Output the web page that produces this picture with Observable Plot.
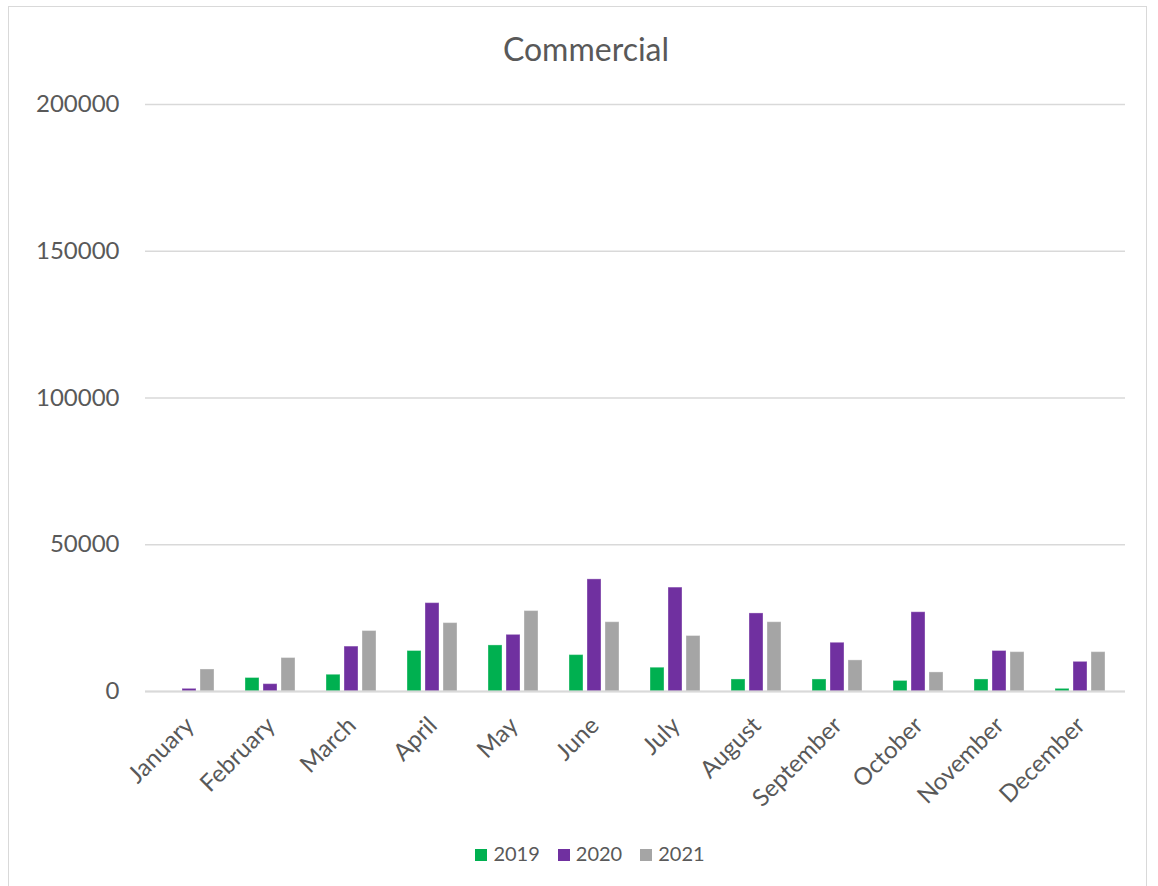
<!DOCTYPE html>
<html>
<head>
<meta charset="utf-8">
<script src="https://cdn.jsdelivr.net/npm/d3@7"></script>
<script src="https://cdn.jsdelivr.net/npm/@observablehq/plot@0.6"></script>
<style>
  html, body { margin: 0; padding: 0; background: #fff; }
  #wrap { position: relative; width: 1158px; height: 886px; overflow: hidden; font-family: Lato, "Open Sans", sans-serif; color: #595959; }
  #frame { position: absolute; left: 8px; top: 6px; width: 1139px; height: 900px; border: 1.5px solid #d9d9d9; box-sizing: border-box; }
  #title { position: absolute; left: 0; width: 1172px; top: 29px; text-align: center; font-size: 32px; color: #595959; }
  .layer { position: absolute; left: 0; top: 0; }
  #legend { position: absolute; left: 0; width: 1180px; top: 841px; text-align: center; font-size: 20px; color: #595959; }
  #legend span.item { display: inline-block; margin: 0 9px; }
  #legend span.sw { display: inline-block; width: 12px; height: 12px; margin-right: 6px; vertical-align: 0px; }
</style>
</head>
<body>
<div id="wrap">
  <div id="frame"></div>
  <div id="title">Commercial</div>
  <div id="base" class="layer"></div>
  <div id="bars" class="layer"></div>
  <div id="legend"></div>
</div>
<script>
const months = ["January","February","March","April","May","June","July","August","September","October","November","December"];
const years = ["2019","2020","2021"];
const colors = ["#00b050","#7030a0","#a5a5a5"];
const v2019 = [0, 4600, 5700, 13800, 15700, 12400, 8100, 4100, 4100, 3600, 4100, 900];
const v2020 = [900, 2500, 15300, 30100, 19300, 38200, 35400, 26600, 16600, 27000, 13800, 10100];
const v2021 = [7500, 11400, 20600, 23300, 27400, 23600, 18900, 23600, 10600, 6500, 13400, 13400];
const yTicks = [0, 50000, 100000, 150000, 200000];

const series = [v2019, v2020, v2021];
const data = [];
months.forEach((m, i) => {
  years.forEach((y, j) => data.push({month: m, year: y, value: series[j][i]}));
});

const common = {
  width: 1158,
  height: 830,
  marginLeft: 145,
  marginRight: 33,
  marginTop: 104,
  marginBottom: 139,
  style: {fontFamily: "Lato, 'Open Sans', sans-serif", color: "#595959", background: "transparent"},
  y: {domain: [0, 200000], label: null}
};

// Background layer: grid lines and y axis spanning the whole plot
const base = Plot.plot({
  ...common,
  marks: [
    Plot.gridY(yTicks, {stroke: "#d9d9d9", strokeOpacity: 1, strokeWidth: 1.5}),
    Plot.axisY(yTicks, {tickSize: 0, tickPadding: 0, dx: -26, tickFormat: d => String(d), fontSize: 24, fill: "#595959", label: null})
  ]
});
document.getElementById("base").appendChild(base);

// Bars layer: grouped bars faceted by month
const bars = Plot.plot({
  ...common,
  fx: {domain: months, paddingInner: 0.375, paddingOuter: 0.1875, label: null},
  x: {domain: years, paddingInner: 0.22, paddingOuter: 0, axis: null},
  y: {domain: [0, 200000], label: null, axis: null},
  color: {domain: years, range: colors},
  marks: [
    Plot.barY(data, {fx: "month", x: "year", y: "value", fill: "year", stroke: "#ffffff", strokeOpacity: 0.35, strokeWidth: 1}),
    Plot.axisFx({anchor: "bottom", tickRotate: -45, tickSize: 0, tickPadding: 30, fontSize: 24, fill: "#595959", label: null})
  ]
});
document.getElementById("bars").appendChild(bars);

// Baseline drawn over the bars
const baseline = Plot.plot({
  ...common,
  y: {domain: [0, 200000], label: null, axis: null},
  marks: [Plot.ruleY([0], {stroke: "#d9d9d9", strokeWidth: 2})]
});
const bl = document.createElement("div");
bl.className = "layer";
bl.appendChild(baseline);
document.getElementById("wrap").insertBefore(bl, document.getElementById("legend"));

const legend = document.getElementById("legend");
years.forEach((y, j) => {
  const item = document.createElement("span");
  item.className = "item";
  const sw = document.createElement("span");
  sw.className = "sw";
  sw.style.background = colors[j];
  item.appendChild(sw);
  item.appendChild(document.createTextNode(y));
  legend.appendChild(item);
});
</script>
</body>
</html>
